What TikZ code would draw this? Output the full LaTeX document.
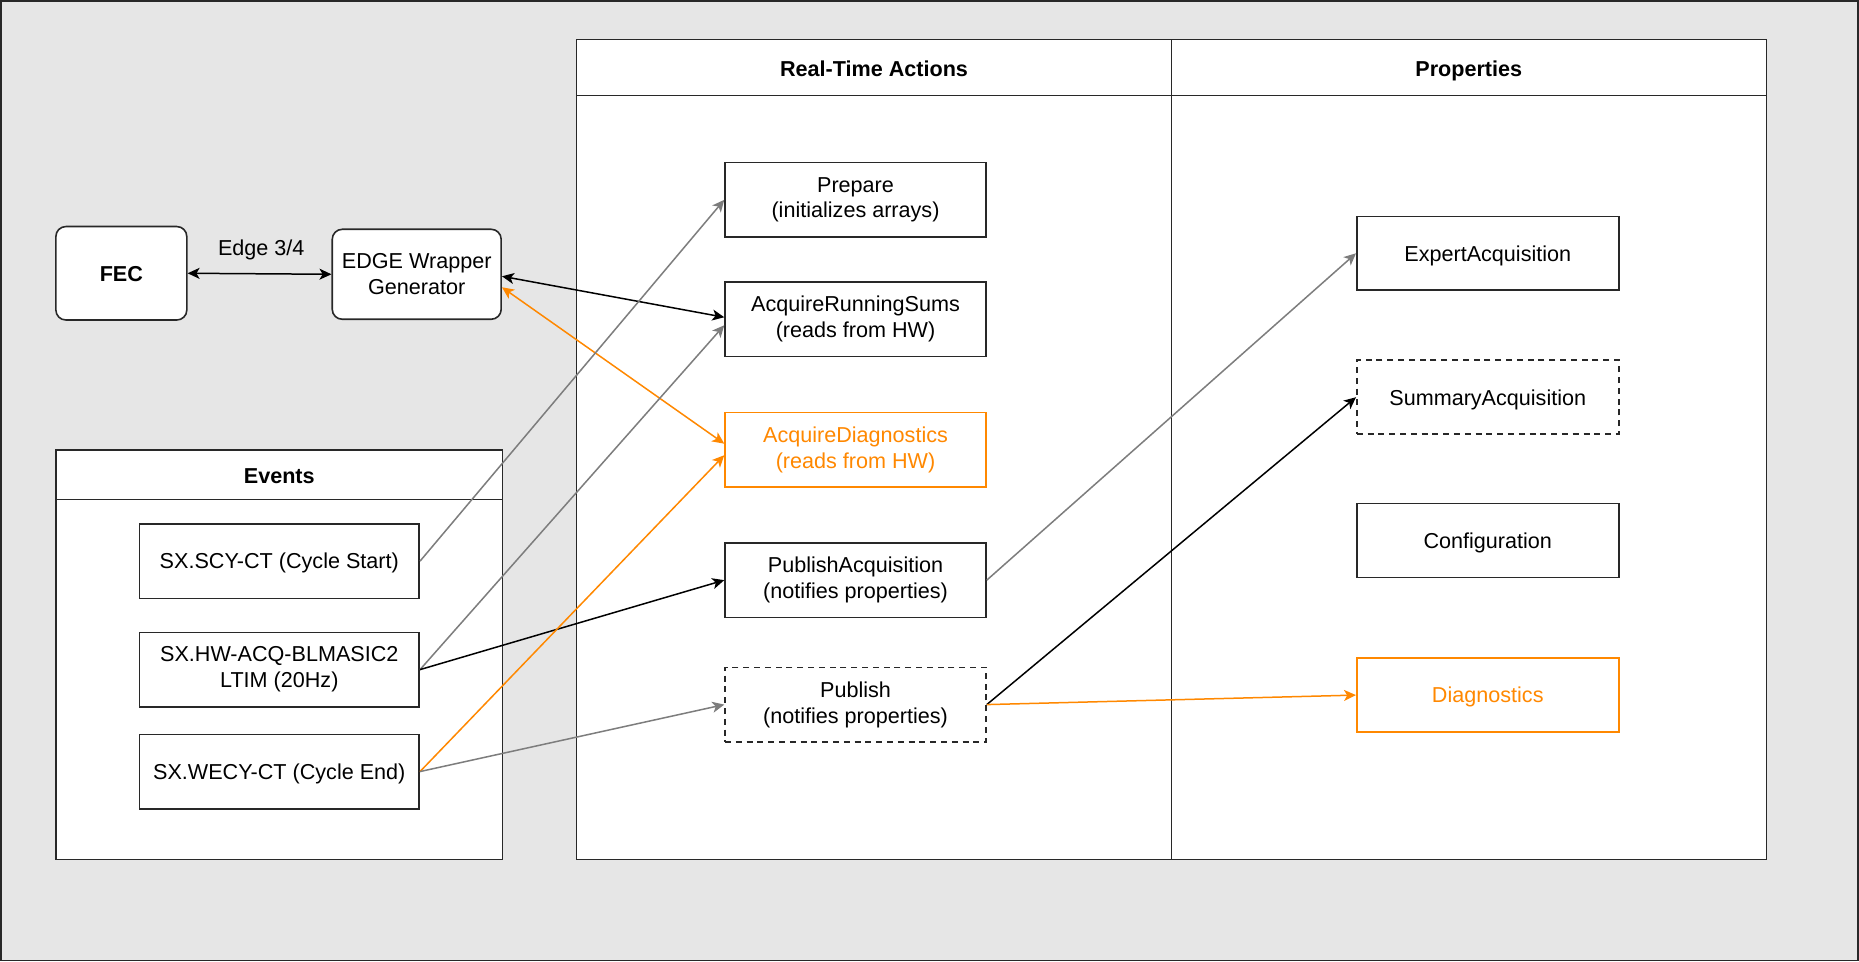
\documentclass[tikz,border=0pt]{standalone}
\usepackage{fontspec}
\setmainfont{Liberation Sans}
\usetikzlibrary{arrows.meta}

\definecolor{bggray}{RGB}{230,230,230}
\definecolor{frame}{RGB}{40,40,40}
\definecolor{orng}{RGB}{255,136,0}
\definecolor{lgray}{RGB}{125,125,125}

\begin{document}
\begin{tikzpicture}[
  x=0.5pt, y=-0.5pt,
  font=\fontsize{10.8}{13}\selectfont,
  every node/.style={inner sep=0pt},
  oneline/.style={text height=7.8pt, text depth=0pt},
  hdr/.style={oneline, font=\fontsize{10.8}{13}\selectfont\bfseries},
  box/.style={draw=frame, line width=0.8pt, fill=white, align=center,
              minimum width=130.5pt, minimum height=37.25pt},
  evbox/.style={box, minimum width=140pt},
  propbox/.style={box, oneline, minimum width=131pt, minimum height=37pt},
  dashbox/.style={dash pattern=on 3pt off 2.4pt},
  obox/.style={draw=orng, text=orng},
  rbox/.style={draw=frame, line width=0.8pt, fill=white, rounded corners=5pt, align=center},
  pool/.style={draw=frame, line width=0.8pt, fill=white},
  conn/.style={line width=0.75pt, -{Stealth[length=6pt,width=5.5pt,inset=1.6pt]}},
  both/.style={line width=0.75pt, {Stealth[length=6pt,width=5.5pt,inset=1.6pt]}-{Stealth[length=6pt,width=5.5pt,inset=1.6pt]}},
  blk/.style={draw=black},
  gry/.style={draw=lgray},
  org/.style={draw=orng},
]
% canvas
\draw[fill=bggray, draw=frame, line width=0.9pt] (0.5,0.5) rectangle (1858.5,960.5);
\useasboundingbox (0,0) rectangle (1859,961);

% Real-Time Actions and Properties lanes
\draw[pool] (576.5,39) rectangle (1767,859.5);
\draw[draw=frame, line width=0.8pt] (576.5,95) -- (1767,95);
\draw[draw=frame, line width=0.8pt] (1171.5,39) -- (1171.5,859.5);
\node[hdr] (rtahead) at (874,68) {Real-Time Actions};
\node[hdr] (prophead) at (1469,68) {Properties};

% Events lane
\draw[pool] (55.5,449.5) rectangle (502.5,859.5);
\draw[draw=frame, line width=0.8pt] (55.5,499.5) -- (502.5,499.5);
\node[hdr] (evhead) at (279,476) {Events};

% front end
\node[rbox, oneline, minimum width=65.5pt, minimum height=46.75pt, font=\fontsize{10.8}{13}\selectfont\bfseries] (fec) at (121,273) {FEC};
\node[rbox, minimum width=84.5pt, minimum height=45pt] (edge) at (416.5,274) {EDGE Wrapper\\Generator};
\node[oneline] (edgelbl) at (261,247) {Edge 3/4};

% events
\node[evbox, oneline] (scy) at (279,561) {SX.SCY-CT (Cycle Start)};
\node[evbox] (hw) at (279,669.5) {SX.HW-ACQ-BLMASIC2\\LTIM (20Hz)};
\node[evbox, oneline] (wecy) at (279,771.5) {SX.WECY-CT (Cycle End)};

% real-time actions
\node[box] (prep) at (855.5,199.5) {Prepare\\(initializes arrays)};
\node[box] (ars) at (855.5,319) {AcquireRunningSums\\(reads from HW)};
\node[box, obox] (adiag) at (855.5,449.5) {AcquireDiagnostics\\(reads from HW)};
\node[box] (pacq) at (855.5,580) {PublishAcquisition\\(notifies properties)};
\node[box, dashbox] (pub) at (855.5,704.5) {Publish\\(notifies properties)};

% properties
\node[propbox] (expert) at (1488,253) {ExpertAcquisition};
\node[propbox, dashbox] (summary) at (1488,397) {SummaryAcquisition};
\node[propbox] (config) at (1488,540.5) {Configuration};
\node[propbox, obox] (diag) at (1488,695) {Diagnostics};

% connectors
\draw[both, blk] (fec.east) -- (edge.west);
\draw[both, blk] ([yshift=-1pt]edge.east) -- ([yshift=1pt]ars.west);
\draw[both, org] ([yshift=-6.5pt]edge.east) -- ([yshift=3pt]adiag.west);

\draw[conn, gry] (scy.east) -- (prep.west);
\draw[conn, gry] (hw.east) -- ([yshift=-3pt]ars.west);
\draw[conn, blk] (hw.east) -- (pacq.west);
\draw[conn, org] (wecy.east) -- ([yshift=-2.75pt]adiag.west);
\draw[conn, gry] (wecy.east) -- (pub.west);

\draw[conn, gry] (pacq.east) -- (expert.west);
\draw[conn, blk] (pub.east) -- (summary.west);
\draw[conn, org] (pub.east) -- (diag.west);
\end{tikzpicture}
\end{document}
